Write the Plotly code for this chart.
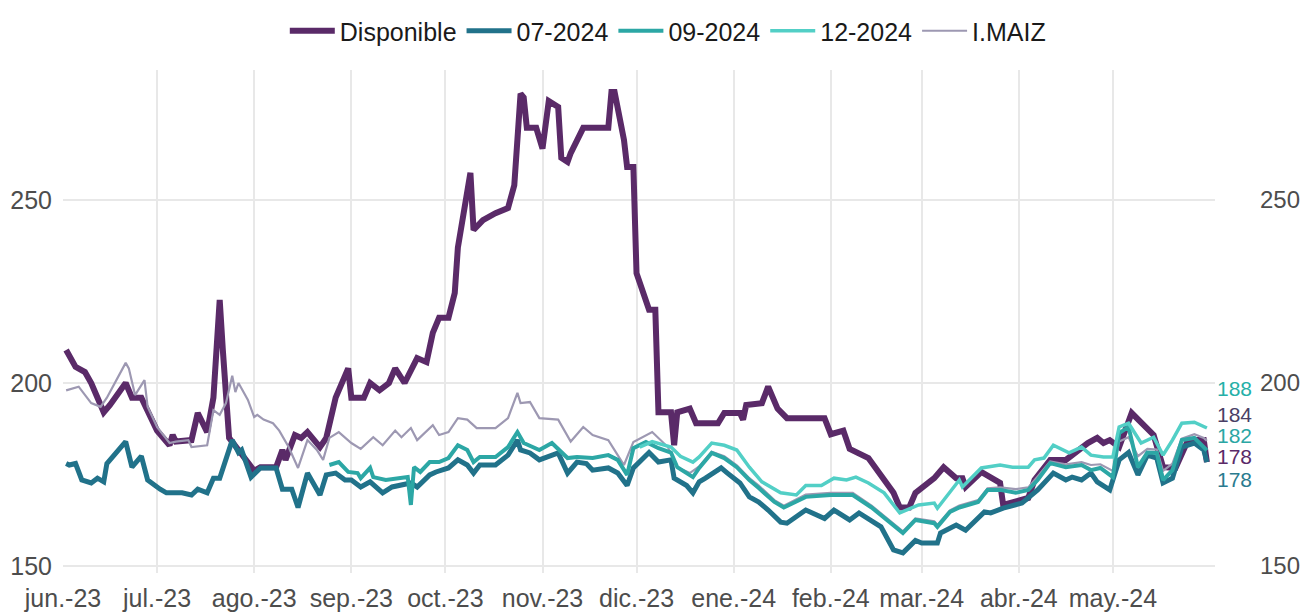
import plotly.graph_objects as go

# ---------------- DATA ----------------
disp_fechas = ["2023-06-02","2023-06-05","2023-06-08","2023-06-10","2023-06-14","2023-06-16","2023-06-21","2023-06-23",
    "2023-06-26","2023-06-29","2023-07-01","2023-07-05","2023-07-06","2023-07-07","2023-07-12","2023-07-14","2023-07-17",
    "2023-07-19","2023-07-21","2023-07-22","2023-07-24","2023-07-27","2023-08-01","2023-08-03","2023-08-08","2023-08-10",
    "2023-08-11","2023-08-14","2023-08-16","2023-08-18","2023-08-22","2023-08-24","2023-08-27","2023-08-31","2023-09-01",
    "2023-09-05","2023-09-07","2023-09-10","2023-09-13","2023-09-15","2023-09-18","2023-09-22","2023-09-25","2023-09-27",
    "2023-09-29","2023-10-02","2023-10-04","2023-10-05","2023-10-09","2023-10-10","2023-10-13","2023-10-17","2023-10-21",
    "2023-10-23","2023-10-25","2023-10-26","2023-10-27","2023-10-30","2023-11-01","2023-11-03","2023-11-06","2023-11-07",
    "2023-11-09","2023-11-10","2023-11-14","2023-11-22","2023-11-23","2023-11-24","2023-11-27","2023-11-28","2023-11-30",
    "2023-12-01","2023-12-05","2023-12-07","2023-12-08","2023-12-12","2023-12-13","2023-12-14","2023-12-18","2023-12-20",
    "2023-12-27","2023-12-29","2024-01-03","2024-01-04","2024-01-05","2024-01-10","2024-01-12","2024-01-15","2024-01-18",
    "2024-01-30","2024-02-01","2024-02-05","2024-02-07","2024-02-13","2024-02-21","2024-02-23","2024-02-26","2024-02-28",
    "2024-03-05","2024-03-08","2024-03-12","2024-03-14","2024-03-15","2024-03-20","2024-03-26","2024-03-27","2024-04-04",
    "2024-04-06","2024-04-11","2024-04-16","2024-04-23","2024-04-26","2024-04-28","2024-04-30","2024-05-03","2024-05-07",
    "2024-05-10","2024-05-14","2024-05-17","2024-05-21","2024-05-25","2024-05-30","2024-05-31"]
disp_valores = [209,204.4,203,200,192,194,200,196,
    196,190.7,187,183,185.8,184,184.4,191.8,186.6,
    196,222.7,209,185,181.7,176,177,177,181.7,
    179,185.8,185,186.6,182.5,185,196,204,196,
    196,200,198,200,204,200,206.8,205.7,213.7,
    217.8,217.8,224.6,237,257.4,241.8,244.5,246.4,247.8,
    254,279,278,269.7,269.7,264,277,275.4,261.5,
    260.4,262.8,269.7,269.7,279.5,279.5,266.4,259,259,
    230,220,220,192,192,183,192,193,189,
    189,191.8,191.8,190,194,194.5,199,193,190.4,
    190.4,186,187,182,179.5,170,166,166,170,
    174,177,174,174,171.6,175.7,172.7,166.7,168.6,
    173.5,179,179,183.6,185,183.6,184.4,182.5,191.8,
    189,185.8,177,176.8,184.4,184.4,178.4]

f07_fechas = ["2023-06-02","2023-06-03","2023-06-05","2023-06-07","2023-06-10","2023-06-12","2023-06-14","2023-06-15",
    "2023-06-21","2023-06-23","2023-06-26","2023-06-28","2023-07-02","2023-07-04","2023-07-09","2023-07-12","2023-07-14",
    "2023-07-17","2023-07-19","2023-07-21","2023-07-25","2023-07-27","2023-07-28","2023-07-31","2023-08-03","2023-08-08",
    "2023-08-10","2023-08-13","2023-08-15","2023-08-18","2023-08-22","2023-08-24","2023-08-27","2023-08-30","2023-09-01",
    "2023-09-04","2023-09-07","2023-09-11","2023-09-14","2023-09-20","2023-09-22","2023-09-26","2023-09-28","2023-10-02",
    "2023-10-05","2023-10-08","2023-10-10","2023-10-12","2023-10-17","2023-10-21","2023-10-24","2023-10-25","2023-10-28",
    "2023-10-31","2023-11-06","2023-11-09","2023-11-12","2023-11-15","2023-11-17","2023-11-22","2023-11-25","2023-11-28",
    "2023-11-30","2023-12-04","2023-12-05","2023-12-08","2023-12-12","2023-12-13","2023-12-17","2023-12-19","2023-12-21",
    "2023-12-23","2023-12-28","2023-12-30","2024-01-03","2024-01-06","2024-01-09","2024-01-12","2024-01-16","2024-01-18",
    "2024-01-24","2024-01-30","2024-02-02","2024-02-07","2024-02-10","2024-02-17","2024-02-21","2024-02-24","2024-02-28",
    "2024-03-01","2024-03-06","2024-03-07","2024-03-12","2024-03-15","2024-03-21","2024-03-23","2024-03-27","2024-04-02",
    "2024-04-07","2024-04-12","2024-04-16","2024-04-18","2024-04-21","2024-04-24","2024-04-26","2024-04-30","2024-05-03",
    "2024-05-06","2024-05-09","2024-05-12","2024-05-15","2024-05-17","2024-05-20","2024-05-23","2024-05-27","2024-05-30",
    "2024-05-31"]
f07_valores = [178,177.6,178,173.5,172.7,174,173,178,
    184,177,180,173.5,171,170,170,169.4,171,
    170,174,174,184.4,181,181.7,174.3,176.8,176.8,
    171,171,166,175.4,169.4,174.9,175.4,173.5,173.5,
    171.6,173,170,171.6,172.7,171.6,174.9,175.7,176.8,
    179,177.6,175.4,177.6,177.6,180.3,184.4,181.7,180.9,
    179,180.9,175.4,178.4,178,176.2,176.8,175.4,172,
    176.8,180.3,181,178.4,179,174,172,170,173,
    174,176.8,175.4,172.7,168.9,167.5,165.3,162,161.7,
    165.3,163,165.3,162.6,164.5,160.7,154.4,153.6,157,
    156.3,156.3,159,161.2,159.8,164.8,164.5,165.8,167.2,
    170.8,175.4,173.5,174.3,173.5,175.4,173,170.8,179,
    181,174.9,180.3,179.5,172.7,174,182.5,183.6,181.7,
    178.4]

f09_fechas = ["2023-08-25","2023-08-28","2023-08-31","2023-09-03","2023-09-04","2023-09-07","2023-09-08","2023-09-12",
    "2023-09-19","2023-09-20","2023-09-21","2023-09-23","2023-09-26","2023-09-29","2023-10-02","2023-10-05","2023-10-08",
    "2023-10-10","2023-10-12","2023-10-17","2023-10-21","2023-10-24","2023-10-26","2023-10-31","2023-11-04","2023-11-09",
    "2023-11-12","2023-11-17","2023-11-22","2023-11-25","2023-11-28","2023-11-30","2023-12-04","2023-12-08","2023-12-12",
    "2023-12-14","2023-12-19","2023-12-21","2023-12-25","2023-12-29","2024-01-02","2024-01-06","2024-01-09","2024-01-14",
    "2024-01-17","2024-01-24","2024-02-01","2024-02-08","2024-02-14","2024-02-21","2024-02-24","2024-02-28","2024-03-05",
    "2024-03-06","2024-03-10","2024-03-13","2024-03-19","2024-03-22","2024-03-26","2024-03-31","2024-04-04","2024-04-07",
    "2024-04-11","2024-04-16","2024-04-21","2024-04-24","2024-04-27","2024-05-01","2024-05-03","2024-05-06","2024-05-09",
    "2024-05-12","2024-05-15","2024-05-17","2024-05-20","2024-05-23","2024-05-27","2024-05-30","2024-05-31"]
f09_valores = [177.6,178.4,175.7,175.4,174,176.8,174.3,173.5,
    174.3,166.7,177,175.7,178.4,178.4,179.5,183,181.7,
    178.4,179.8,179.8,182.5,186.6,183.6,181.7,183.6,179.5,
    179.8,179.5,180.3,179,174.9,182.2,183.9,182.2,181,
    177,174.3,176.8,180.9,179.5,177,173.5,171.3,167.5,
    166,168.9,169.4,169.4,166,161.2,159,162.6,161.7,
    160.7,164.8,166,167.5,170.8,170.8,170,170.8,173.5,
    178.1,177,177.6,176.2,176.8,174.3,186.3,188,177,
    181,180.9,173.5,176.2,184.4,185,182.5,181.6]

f12_fechas = ["2023-12-02","2023-12-06","2023-12-12","2023-12-15","2023-12-19","2023-12-21","2023-12-25","2023-12-29",
    "2024-01-02","2024-01-06","2024-01-10","2024-01-16","2024-01-21","2024-01-24","2024-01-29","2024-02-02","2024-02-06",
    "2024-02-09","2024-02-13","2024-02-18","2024-02-23","2024-02-27","2024-02-29","2024-03-05","2024-03-06","2024-03-13",
    "2024-03-14","2024-03-20","2024-03-26","2024-03-30","2024-04-04","2024-04-06","2024-04-09","2024-04-12","2024-04-17",
    "2024-04-21","2024-04-24","2024-04-28","2024-05-01","2024-05-03","2024-05-06","2024-05-10","2024-05-14","2024-05-17",
    "2024-05-20","2024-05-23","2024-05-27","2024-05-31"]
f12_valores = [182.5,184,182.5,180,178.4,179.8,183.6,183,
    181.7,177,173,170,169.4,172,172,174,173.5,
    174.3,172.7,170,164.5,165.8,166.7,167.2,165.8,173.5,
    171.6,176.8,177.6,177,177,179,179.5,183,180.9,
    182.5,180.3,179.8,179.8,188,189,183.6,185.2,180.3,
    184.4,189,189.3,187.7]

imaiz_fechas = ["2023-06-02","2023-06-05","2023-06-06","2023-06-10","2023-06-13","2023-06-15","2023-06-21","2023-06-22",
    "2023-06-24","2023-06-27","2023-06-28","2023-07-01","2023-07-05","2023-07-07","2023-07-11","2023-07-12","2023-07-17",
    "2023-07-19","2023-07-21","2023-07-23","2023-07-25","2023-07-26","2023-07-27","2023-07-30","2023-08-01","2023-08-02",
    "2023-08-04","2023-08-07","2023-08-09","2023-08-12","2023-08-15","2023-08-18","2023-08-21","2023-08-23","2023-08-25",
    "2023-08-28","2023-09-01","2023-09-04","2023-09-08","2023-09-11","2023-09-15","2023-09-17","2023-09-20","2023-09-22",
    "2023-09-27","2023-09-29","2023-10-02","2023-10-05","2023-10-08","2023-10-11","2023-10-17","2023-10-21","2023-10-24",
    "2023-10-25","2023-10-28","2023-10-31","2023-11-06","2023-11-10","2023-11-14","2023-11-17","2023-11-22","2023-11-25",
    "2023-11-27","2023-11-30","2023-12-06","2023-12-11","2023-12-14","2023-12-18","2023-12-21","2023-12-25","2023-12-29",
    "2024-01-02","2024-01-06","2024-01-09","2024-01-14","2024-01-17","2024-01-24","2024-02-01","2024-02-08","2024-02-14",
    "2024-02-21","2024-02-24","2024-02-28","2024-03-05","2024-03-06","2024-03-10","2024-03-13","2024-03-19","2024-03-22",
    "2024-03-26","2024-03-31","2024-04-04","2024-04-07","2024-04-11","2024-04-16","2024-04-21","2024-04-24","2024-04-27",
    "2024-05-01","2024-05-03","2024-05-06","2024-05-09","2024-05-12","2024-05-15","2024-05-17","2024-05-20","2024-05-23",
    "2024-05-27","2024-05-30","2024-05-31"]
imaiz_valores = [198,198.6,199,194.5,193.5,196,205.5,204,
    196.7,200.8,193.5,188,183.6,184,184.4,182.5,183,
    192.6,191.3,194.5,202,197.5,200,195.4,190.7,191.3,
    190,189,187,182.5,176.8,184.4,181.7,179,185,
    186.6,183.6,182,185.2,183,187,185.2,187.7,184.4,
    188.5,185.8,186.6,190.4,190,187.7,187.7,190.4,197.3,
    194.5,194.8,190.4,190,184,188,185.8,184.4,180.3,
    177.6,183.9,186.6,182.5,177,175.4,177.2,181.2,180,
    177.5,174,172,168,166.5,169.5,170,170,166.5,
    161.5,159.5,163,162.2,161.2,165.2,166.5,168,171.2,
    171.5,171,171.5,174.5,178.6,177.8,178.4,177.6,177.8,
    176,184,185.2,180,182,181.8,176,178,184.8,
    186,185,184.2]

meses_vals = ["2023-06-01","2023-07-01","2023-08-01","2023-09-01","2023-10-01","2023-11-01","2023-12-01",
              "2024-01-01","2024-02-01","2024-03-01","2024-04-01","2024-05-01"]
meses_txt = ["jun.-23","jul.-23","ago.-23","sep.-23","oct.-23","nov.-23","dic.-23",
             "ene.-24","feb.-24","mar.-24","abr.-24","may.-24"]
y_ticks = [150, 200, 250]

# ---------------- STYLE ----------------
C_DISP = "#5a2a68"
C_07 = "#21728a"
C_09 = "#2ca7a5"
C_12 = "#52cfc6"
C_IM = "#9d98b2"
FONT = "Liberation Sans, Arial, sans-serif"

fig = go.Figure()
fig.add_trace(go.Scatter(x=disp_fechas, y=disp_valores, name="Disponible", mode="lines",
                         line=dict(color=C_DISP, width=6), legendrank=1))
fig.add_trace(go.Scatter(x=imaiz_fechas, y=imaiz_valores, name="I.MAIZ", mode="lines",
                         line=dict(color=C_IM, width=2.2), legendrank=5))
fig.add_trace(go.Scatter(x=f07_fechas, y=f07_valores, name="07-2024", mode="lines",
                         line=dict(color=C_07, width=5), legendrank=2))
fig.add_trace(go.Scatter(x=f09_fechas, y=f09_valores, name="09-2024", mode="lines",
                         line=dict(color=C_09, width=4), legendrank=3))
fig.add_trace(go.Scatter(x=f12_fechas, y=f12_valores, name="12-2024", mode="lines",
                         line=dict(color=C_12, width=3.5), legendrank=4))
# invisible trace to activate the right-hand mirror axis
fig.add_trace(go.Scatter(x=disp_fechas, y=disp_valores, yaxis="y2", mode="lines",
                         line=dict(width=0), opacity=0, showlegend=False, hoverinfo="skip"))

yr = [148.1, 285.5]
# page body has an 8px default margin, so the figure is drawn 8px smaller
fig.update_layout(
    width=1303, height=607,
    margin=dict(l=55, r=96, t=62, b=42, autoexpand=False),
    paper_bgcolor="white", plot_bgcolor="white",
    font=dict(family=FONT, size=25, color="#4d4d4d"),
    showlegend=True,
    legend=dict(orientation="h", x=0.525, xanchor="center", y=1.0, yref="container", yanchor="top",
                font=dict(size=25, color="#1a1a1a"), itemwidth=45, traceorder="normal"),
    xaxis=dict(type="date", range=["2023-06-01", "2024-06-02 14:00"], tickmode="array",
               tickvals=meses_vals, ticktext=meses_txt, showgrid=True, gridcolor="#e8e8e8", gridwidth=1.5,
               zeroline=False, showline=False, ticks="", ticklabelstandoff=8, automargin=False,
               tickfont=dict(size=25, color="#4d4d4d")),
    yaxis=dict(range=yr, tickvals=y_ticks, showgrid=True, gridcolor="#e8e8e8", gridwidth=1.5,
               zeroline=False, showline=False, ticks="", ticklabelstandoff=10, automargin=False,
               tickfont=dict(size=25, color="#4d4d4d")),
    yaxis2=dict(range=yr, tickvals=y_ticks, overlaying="y", side="right", showgrid=False,
                zeroline=False, showline=False, ticks="", ticklabelstandoff=44, automargin=False,
                tickfont=dict(size=24, color="#4d4d4d")),
)

# end-of-series labels (values from last data points, positions repelled)
etiquetas = [
    (f12_valores[-1], 198.4, "#25b0a8"),
    (imaiz_valores[-1], 191.4, "#4a3f66"),
    (f09_valores[-1], 185.6, "#2aa6a4"),
    (disp_valores[-1], 180.0, C_DISP),
    (f07_valores[-1], 173.6, "#2a7b8f"),
]
for val, ypos, col in etiquetas:
    fig.add_annotation(x=1.0, xref="paper", y=ypos, yref="y", text=f"{round(val):d}",
                       showarrow=False, xanchor="left", xshift=0,
                       font=dict(size=21, color=col, family=FONT))

fig.write_html("out.html")
